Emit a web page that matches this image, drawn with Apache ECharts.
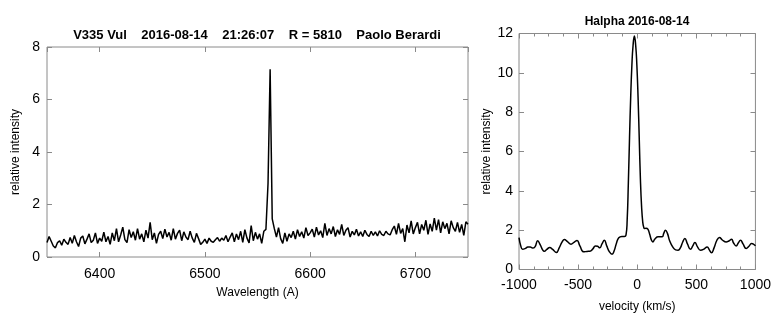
<!DOCTYPE html>
<html>
<head>
<meta charset="utf-8">
<script src="https://cdn.jsdelivr.net/npm/echarts@6/dist/echarts.min.js"></script>
<style>
  html, body { margin: 0; padding: 0; background: #fff; }
  #chart { width: 774px; height: 322px; }
</style>
</head>
<body>
<div id="chart"></div>
<script>
// V335 Vul spectrum, 2016-08-14 21:26:07, R = 5810
const wlStart = 6350;   // Angstrom, first sample
const wlStep = 2;       // Angstrom per sample
const flux = [
  0.55,0.78,0.60,0.42,0.35,0.55,0.62,0.45,0.68,0.56,
  0.48,0.74,0.52,0.82,0.58,0.40,0.72,0.80,0.50,0.68,
  0.88,0.55,0.64,0.92,0.52,0.72,0.60,0.95,0.58,0.78,
  0.48,0.92,0.62,1.08,0.58,0.84,1.14,0.66,0.55,1.04,
  0.74,0.96,0.64,1.08,0.68,0.88,0.58,1.02,0.72,1.32,
  0.66,0.92,0.52,0.86,0.98,0.70,1.06,0.76,0.94,0.64,
  1.08,0.68,0.90,1.02,0.62,0.96,0.76,0.66,0.98,0.72,
  0.56,0.90,0.70,0.48,0.56,0.68,0.52,0.72,0.60,0.56,
  0.66,0.74,0.60,0.72,0.64,0.82,0.58,0.76,0.92,0.58,
  0.88,0.66,0.98,0.56,1.04,0.72,0.54,1.20,0.62,0.94,
  0.68,0.88,0.52,0.98,1.05,
  2.80,7.15,1.45,
  1.08,0.76,1.12,0.70,0.52,0.92,0.60,
  0.88,0.74,0.98,0.68,1.04,0.78,0.96,0.72,1.12,0.82,
  0.92,1.06,0.76,1.14,0.84,1.00,0.74,1.28,0.82,1.08,
  0.88,1.16,0.78,1.04,0.86,1.24,0.82,1.02,1.12,0.76,
  0.98,0.84,1.06,0.80,0.96,0.78,1.02,0.86,0.78,0.98,
  0.82,0.96,0.80,1.00,0.86,0.82,0.98,0.88,0.84,1.04,
  1.18,0.86,1.28,0.90,1.08,0.58,1.22,0.92,1.38,0.88,
  1.12,1.32,0.88,1.24,1.02,1.40,0.86,1.26,0.98,1.48,
  1.02,1.42,0.92,1.34,1.08,1.28,0.88,1.38,1.12,0.98,
  1.32,0.94,1.24,0.82,1.34,1.25
];

// H-alpha profile in velocity space (km/s)
const velocity = [
  -1000,-985,-970,-950,-925,-905,-885,-865,-842,-820,-800,-786,-765,-740,-715,-684,
  -660,-635,-616,-590,-560,-535,-509,-485,-452,-425,-401,-375,-354,-335,-317,-298,
  -278,-258,-235,-213,-195,-175,-156,-130,-108,-95,-85,-75,-65,-55,-45,-35,-24,
  -13,-3,7,17,27,37,47,55,62,75,90,105,120,132,150,177,211,225,239,255,275,300,
  325,346,365,385,403,425,451,470,488,510,535,560,592,610,628,650,675,696,720,753,
  775,798,815,837,855,874,895,922,945,967,985,1000
];
const intensity = [
  1.62,1.20,1.03,1.06,1.14,1.15,1.09,1.15,1.46,1.25,1.00,0.93,1.02,1.12,1.02,0.87,
  1.10,1.40,1.53,1.42,1.29,1.38,1.48,1.20,0.90,0.92,0.93,1.05,1.20,1.18,1.10,1.30,
  1.49,1.20,0.90,0.78,0.95,1.35,1.61,1.68,1.68,1.75,2.50,4.40,6.70,8.80,10.40,11.40,11.87,
  11.40,10.40,8.80,6.70,4.60,3.20,2.40,2.15,2.08,2.10,2.05,1.80,1.50,1.40,1.55,1.66,1.66,1.85,2.00,1.85,1.45,1.15,
  1.00,0.98,1.10,1.40,1.58,1.30,1.03,1.20,1.37,1.15,0.98,1.02,1.15,1.00,0.85,1.10,1.50,1.63,1.50,1.40,
  1.45,1.54,1.35,1.20,1.35,1.49,1.30,1.07,1.18,1.32,1.28,1.20
];

const leftTitle = 'V335 Vul    2016-08-14    21:26:07    R = 5810    Paolo Berardi';
const rightTitle = 'Halpha 2016-08-14';

const spectrum = flux.map((f, i) => [wlStart + i * wlStep, f]);
const profile = velocity.map((v, i) => [v, intensity[i]]);

const FONT = '"Liberation Sans", Arial, Helvetica, sans-serif';
const FRAME = '#8a8a8a';

// plot rectangles
const leftBox = { left: 47, top: 47, width: 421, height: 210 };
const rightBox = { left: 519, top: 33.5, width: 236.5, height: 236 };

function tickStyle(len) {
  return { show: true, inside: true, length: len, lineStyle: { color: FRAME, width: 1 } };
}
function noLine() { return { show: false, onZero: false }; }
const plain = v => String(v);
function labels(extra) {
  return Object.assign({ color: '#000', fontSize: 14, fontFamily: FONT, formatter: plain }, extra);
}
const nameStyle = { color: '#000', fontSize: 12, fontFamily: FONT };
function minor() { return { show: true, splitNumber: 4, length: 3, lineStyle: { color: FRAME, width: 1 } }; }
// helper axis for the mirror grids: hidden, range away from zero
function dummy(gridIndex) {
  return { gridIndex, type: 'value', min: 1, max: 2, show: false };
}

const grids = [
  Object.assign({ show: true, borderColor: FRAME, borderWidth: 1, backgroundColor: 'transparent' }, leftBox),
  Object.assign({ show: true, borderColor: FRAME, borderWidth: 1, backgroundColor: 'transparent' }, rightBox),
  // mirrored ticks: top and right of each panel
  Object.assign({ show: false }, leftBox),
  Object.assign({ show: false }, leftBox),
  Object.assign({ show: false }, rightBox),
  Object.assign({ show: false }, rightBox)
];

const chart = echarts.init(document.getElementById('chart'), null, { renderer: 'canvas' });
chart.setOption({
  animation: false,
  backgroundColor: '#fff',
  title: [
    { text: leftTitle, left: 257, top: 29, textAlign: 'center', padding: 0,
      textStyle: { fontSize: 13, fontWeight: 'bold', color: '#000', fontFamily: FONT } },
    { text: rightTitle, left: 637, top: 16, textAlign: 'center', padding: 0,
      textStyle: { fontSize: 12, fontWeight: 'bold', color: '#000', fontFamily: FONT } }
  ],
  grid: grids,
  xAxis: [
    { gridIndex: 0, type: 'value', min: 6350, max: 6750, splitNumber: 4,
      axisLine: noLine(), splitLine: { show: false }, axisTick: tickStyle(5),
      axisLabel: labels({ margin: 10, showMinLabel: false, showMaxLabel: false }),
      name: 'Wavelength (A)', nameLocation: 'middle', nameGap: 30, nameTextStyle: nameStyle },
    { gridIndex: 1, type: 'value', min: -1000, max: 1000, interval: 500,
      axisLine: noLine(), splitLine: { show: false }, axisTick: tickStyle(5), minorTick: minor(),
      axisLabel: labels({ margin: 9 }),
      name: 'velocity (km/s)', nameLocation: 'middle', nameGap: 31, nameTextStyle: nameStyle },
    { gridIndex: 2, type: 'value', position: 'top', min: 6350, max: 6750, splitNumber: 4,
      axisLine: noLine(), splitLine: { show: false }, axisTick: tickStyle(5),
      axisLabel: { show: false } },
    dummy(3),
    { gridIndex: 4, type: 'value', position: 'top', min: -1000, max: 1000, interval: 500,
      axisLine: noLine(), splitLine: { show: false }, axisTick: tickStyle(5), minorTick: minor(),
      axisLabel: { show: false } },
    dummy(5)
  ],
  yAxis: [
    { gridIndex: 0, type: 'value', min: 0, max: 8, interval: 2,
      axisLine: noLine(), splitLine: { show: false }, axisTick: tickStyle(5),
      axisLabel: labels({ margin: 7 }),
      name: 'relative intensity', nameLocation: 'middle', nameGap: 24, nameTextStyle: nameStyle },
    { gridIndex: 1, type: 'value', min: 0, max: 12, interval: 2,
      axisLine: noLine(), splitLine: { show: false }, axisTick: tickStyle(5),
      axisLabel: labels({ margin: 6 }),
      name: 'relative intensity', nameLocation: 'middle', nameGap: 26, nameTextStyle: nameStyle },
    dummy(2),
    { gridIndex: 3, type: 'value', position: 'right', min: 0, max: 8, interval: 2,
      axisLine: noLine(), splitLine: { show: false }, axisTick: tickStyle(5),
      axisLabel: { show: false } },
    dummy(4),
    { gridIndex: 5, type: 'value', position: 'right', min: 0, max: 12, interval: 2,
      axisLine: noLine(), splitLine: { show: false }, axisTick: tickStyle(5),
      axisLabel: { show: false } }
  ],
  series: [
    { type: 'line', xAxisIndex: 0, yAxisIndex: 0, data: spectrum, showSymbol: false,
      lineStyle: { color: '#000', width: 1.5 }, silent: true },
    { type: 'line', xAxisIndex: 1, yAxisIndex: 1, data: profile, showSymbol: false,
      smooth: 0.5,
      lineStyle: { color: '#000', width: 1.5 }, silent: true }
  ]
});
</script>
</body>
</html>
